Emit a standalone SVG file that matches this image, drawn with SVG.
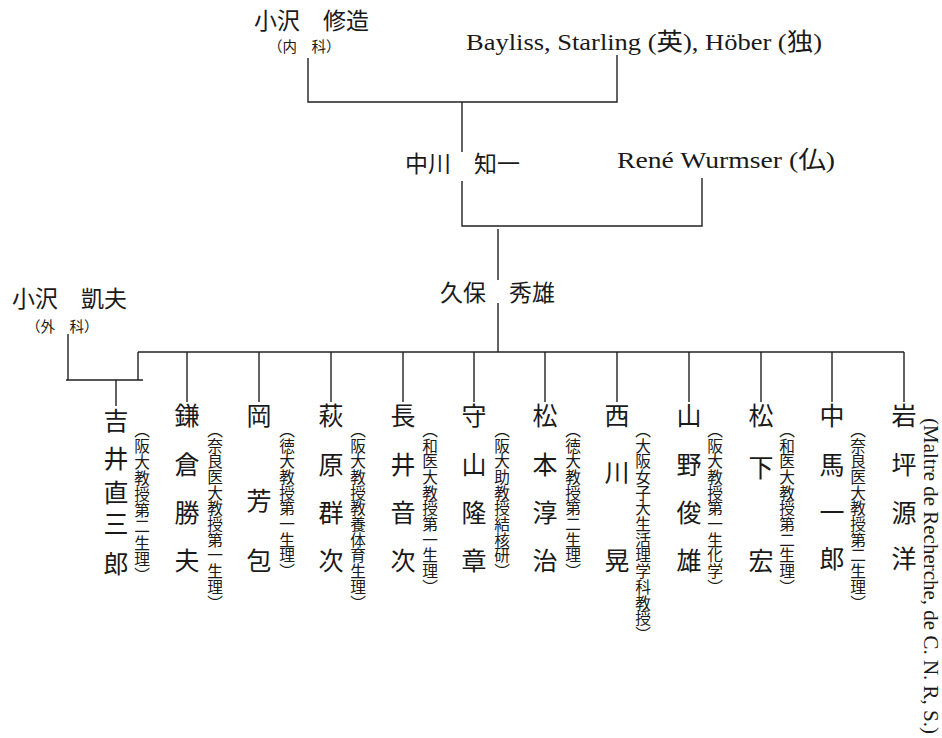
<svg xmlns="http://www.w3.org/2000/svg" width="942" height="738" viewBox="0 0 942 738">
<style>
.bg{fill:#fff}
.ln{stroke:#222;stroke-width:1.4;fill:none}
.jp{font-family:"Noto Sans CJK JP","Noto Sans CJK SC",sans-serif;fill:#1a1a1a}
.lat{font-family:"Liberation Serif","Noto Sans CJK JP",serif;fill:#1a1a1a}
.nm{font-size:25px;text-anchor:middle}
.note{font-size:15.7px;writing-mode:vertical-rl}
</style>
<rect class="bg" width="942" height="738"/>
<g id="connectors">
<path class="ln" d="M308 58V102H617V55"/>
<path class="ln" d="M462 102V152M462 181V226H702V178"/>
<path class="ln" d="M498 229V280M498 303V352"/>
<path class="ln" d="M138 352H904"/>
<path class="ln" d="M68 334V380M66 380H143M138 352V380M116 380V406"/>
<path class="ln" d="M187 352V402M259 352V402M331 352V402M403 352V402M474 352V402M545 352V402M617 352V402M689 352V402M761 352V402M832 352V402M904 352V402"/>
</g>
<g id="n-ozawa-shuzo">
<text class="jp" x="254" y="29" font-size="23">小沢　修造</text>
<text class="jp" x="268" y="52" font-size="14.5">（内　科）</text>
</g>
<g id="n-bayliss">
<text class="lat" x="466" y="50" font-size="24" textLength="356" lengthAdjust="spacingAndGlyphs">Bayliss, Starling (英), Höber (独)</text>
</g>
<g id="n-nakagawa">
<text class="jp" x="405" y="172" font-size="23">中川　知一</text>
</g>
<g id="n-wurmser">
<text class="lat" x="617" y="168" font-size="24" textLength="218" lengthAdjust="spacingAndGlyphs">René Wurmser (仏)</text>
</g>
<g id="n-kubo">
<text class="jp" x="440" y="301" font-size="23">久保　秀雄</text>
</g>
<g id="n-ozawa-gaifu">
<text class="jp" x="12" y="307" font-size="23">小沢　凱夫</text>
<text class="jp" x="26" y="332" font-size="14.5">（外　科）</text>
</g>
<g id="n-yoshii">
<text class="jp nm" x="116 116 116 116 116" y="430 468 502 533 573">吉井直三郎</text>
<text class="jp note" x="142" y="422" letter-spacing="0.4">（阪大教授第二生理）</text>
</g>
<g id="n-kamakura">
<text class="jp nm" x="187 187 187 187" y="425 474 522 570">鎌倉勝夫</text>
<text class="jp note" x="215" y="422">（奈良医大教授第一生理）</text>
</g>
<g id="n-oka">
<text class="jp nm" x="259 259 259" y="425 510 570">岡芳包</text>
<text class="jp note" x="287" y="422">（徳大教授第一生理）</text>
</g>
<g id="n-hagihara">
<text class="jp nm" x="331 331 331 331" y="425 474 522 570">萩原群次</text>
<text class="jp note" x="358" y="422">（阪大教授教養体育生理）</text>
</g>
<g id="n-nagai">
<text class="jp nm" x="403 403 403 403" y="425 474 522 570">長井音次</text>
<text class="jp note" x="430" y="422">（和医大教授第一生理）</text>
</g>
<g id="n-moriyama">
<text class="jp nm" x="474 474 474 474" y="425 474 522 570">守山隆章</text>
<text class="jp note" x="502" y="422">（阪大助教授結核研）</text>
</g>
<g id="n-matsumoto">
<text class="jp nm" x="545 545 545 545" y="425 474 522 570">松本淳治</text>
<text class="jp note" x="573" y="422">（徳大教授第二生理）</text>
</g>
<g id="n-nishikawa">
<text class="jp nm" x="617 617 617" y="425 482 570">西川晃</text>
<text class="jp note" x="643" y="422">（大阪女子大生活理学科教授）</text>
</g>
<g id="n-yamano">
<text class="jp nm" x="689 689 689 689" y="425 474 522 570">山野俊雄</text>
<text class="jp note" x="715" y="422">（阪大教授第一生化学）</text>
</g>
<g id="n-matsushita">
<text class="jp nm" x="761 761 761" y="425 477 570">松下宏</text>
<text class="jp note" x="787" y="422">（和医大教授第二生理）</text>
</g>
<g id="n-chuma">
<text class="jp nm" x="832 832 832 832" y="425 474 522 568">中馬一郎</text>
<text class="jp note" x="858" y="422">（奈良医大教授第二生理）</text>
</g>
<g id="n-iwatsubo">
<text class="jp nm" x="904 904 904 904" y="425 474 522 568">岩坪源洋</text>
<text class="lat" transform="translate(924,418) rotate(90)" font-size="20" textLength="316" lengthAdjust="spacingAndGlyphs">(Maltre de Recherche, de C. N. R, S.)</text>
</g>
</svg>
